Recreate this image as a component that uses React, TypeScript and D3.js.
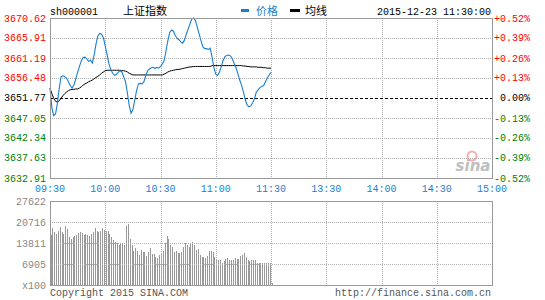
import React from "react";
import * as d3 from "d3";

const prevClose = 3651.77;
const priceTicks = [3670.62, 3665.91, 3661.19, 3656.48, 3651.77, 3647.05, 3642.34, 3637.63, 3632.91];
const pctLabels = ["+0.52%", "+0.39%", "+0.26%", "+0.13%", "0.00%", "-0.13%", "-0.26%", "-0.39%", "-0.52%"];
const timeLabels = ["09:30", "10:00", "10:30", "11:00", "11:30", "13:30", "14:00", "14:30", "15:00"];
const volTicks = [27622, 20716, 13811, 6905];

const price = [
  3654.1, 3649.5, 3647.6, 3648.0, 3650.5, 3654.0, 3656.8, 3657.0, 3656.8, 3656.4,
  3655.6, 3654.7, 3654.1, 3654.8, 3656.3, 3657.8, 3659.2, 3660.5, 3661.3, 3661.4,
  3661.0, 3660.4, 3660.7, 3660.0, 3662.0, 3664.5, 3666.4, 3667.0, 3666.8, 3666.0,
  3664.0, 3662.0, 3659.8, 3658.5, 3657.6, 3657.1, 3657.3, 3657.8, 3658.2, 3657.9,
  3656.8, 3655.6, 3653.0, 3650.0, 3648.2, 3649.0, 3651.2, 3653.5, 3655.1, 3655.2,
  3655.1, 3655.6, 3657.0, 3658.2, 3658.6, 3658.9, 3659.0, 3658.7, 3659.0, 3658.8,
  3659.2, 3659.8, 3660.6, 3662.9, 3665.3, 3667.2, 3667.8, 3667.5, 3666.5, 3665.8,
  3665.5, 3665.0, 3664.7, 3665.4, 3666.8, 3668.0, 3669.2, 3670.4, 3670.62, 3670.0,
  3668.4, 3666.8, 3665.3, 3663.8, 3663.4, 3663.4, 3663.2, 3663.5, 3661.4, 3659.0,
  3657.4, 3657.1, 3657.8, 3659.2, 3660.6, 3661.5, 3661.8, 3661.9, 3661.7, 3661.0,
  3659.9, 3658.9, 3657.5, 3656.0, 3654.8, 3653.2, 3651.4, 3650.2, 3649.7, 3649.9,
  3650.6, 3651.6, 3653.1, 3653.7, 3654.2, 3654.5, 3654.7, 3655.6, 3656.5, 3657.2,
  3657.8,
];

const avgPrice = [
  3654.1, 3652.8, 3651.7, 3651.0, 3650.8, 3651.1, 3651.7, 3652.3, 3652.8, 3653.2,
  3653.5, 3653.7, 3653.8, 3653.8, 3653.9, 3653.9, 3654.1, 3654.4, 3654.8, 3655.1,
  3655.3, 3655.6, 3655.8, 3656.0, 3656.3, 3656.6, 3656.9, 3657.2, 3657.6, 3657.9,
  3658.2, 3658.3, 3658.3, 3658.3, 3658.3, 3658.3, 3658.3, 3658.3, 3658.3, 3658.2,
  3658.2, 3658.1, 3657.9, 3657.6, 3657.4, 3657.2, 3657.2, 3657.2, 3657.2, 3657.2,
  3657.2, 3657.2, 3657.2, 3657.2, 3657.2, 3657.2, 3657.2, 3657.2, 3657.2, 3657.2,
  3657.2, 3657.2, 3657.4, 3657.6, 3657.9, 3658.1, 3658.2, 3658.3, 3658.4, 3658.5,
  3658.5, 3658.6, 3658.7, 3658.8, 3658.9, 3659.0, 3659.1, 3659.1, 3659.2, 3659.2,
  3659.2, 3659.2, 3659.2, 3659.2, 3659.2, 3659.2, 3659.2, 3659.2, 3659.4, 3659.4,
  3659.4, 3659.4, 3659.4, 3659.4, 3659.4, 3659.4, 3659.4, 3659.4, 3659.4, 3659.4,
  3659.4, 3659.4, 3659.4, 3659.4, 3659.4, 3659.3, 3659.3, 3659.2, 3659.2, 3659.1,
  3659.1, 3659.1, 3659.1, 3659.0, 3659.0, 3659.0, 3658.9, 3658.9, 3658.8, 3658.8,
  3658.8,
];

const volume = [
  16550, 18740, 17430, 16770, 17650, 18960, 17430, 16770, 19290, 18520,
  15670, 15230, 15670, 16000, 16330, 17100, 17430, 17100, 16330, 16770,
  16550, 16000, 16770, 17430, 18740, 17650, 17430, 17860, 18740, 18190,
  17650, 17860, 16770, 15670, 14900, 14140, 13810, 13040, 13480, 13810,
  13150, 19290, 19950, 15230, 13150, 11180, 12060, 11180, 9970, 11510,
  10850, 10850, 9430, 10850, 12060, 10190, 10190, 9100, 8880, 9760,
  10520, 11070, 13810, 16000, 15230, 13040, 12390, 10850, 11180, 10520,
  10520, 10850, 12390, 13810, 13150, 12390, 13810, 14140, 13150, 11400,
  11840, 9970, 9100, 9100, 8880, 9430, 11180, 11070, 10740, 9100,
  8330, 8330, 8330, 7230, 7780, 8550, 8880, 8330, 8330, 8330,
  8880, 8660, 8660, 9650, 9760, 10520, 9320, 8330, 7780, 8330,
  8330, 8330, 7230, 7230, 7230, 7230, 7230, 7230, 7230, 7230,
  660,
];

const MONO = "'Liberation Mono', 'DejaVu Sans Mono', monospace";
const CJK = "'Noto Sans CJK SC', sans-serif";
const BLUE = "#1a7fd0";
const RED = "#ff0000";
const GREEN = "#008000";
const GRID = "#b0b0b0";
const BORDER = "#999999";

export default function App() {
  const W = 545, H = 300;
  const left = 50, right = 492;
  const top = 18, bottom = 178;
  const vTop = 201, vBottom = 285;

  const x = d3.scaleLinear().domain([0, 240]).range([left, right]);
  const y = d3.scaleLinear().domain([priceTicks[priceTicks.length - 1], priceTicks[0]]).range([bottom, top]);
  const vy = d3.scaleLinear().domain([0, volTicks[0]]).range([vBottom, vTop]);

  const line = d3.line<number>().x((_, i) => x(i)).y((d) => y(d));
  const timeIdx = timeLabels.map((_, i) => i * 30);

  const colorFor = (v: number) => (Math.abs(v - prevClose) < 0.005 ? "#000" : v > prevClose ? RED : GREEN);

  return (
    <svg width={W} height={H} style={{ position: "absolute", left: 0, top: 0, background: "#fff" }}>
      <rect x={0} y={0} width={W} height={H} fill="#fff" />
      {/* header */}
      <text x={50} y={15} fontFamily={MONO} fontSize={10} fill="#000">sh000001</text>
      <text x={123} y={15} fontFamily={CJK} fontSize={11} fill="#000">上证指数</text>
      <rect x={241} y={9} width={8} height={3} fill={BLUE} />
      <text x={256} y={15} fontFamily={CJK} fontSize={11} fill={BLUE}>价格</text>
      <rect x={290} y={9} width={10} height={3} fill="#000" />
      <text x={305} y={15} fontFamily={CJK} fontSize={11} fill="#000">均线</text>
      <text x={491} y={15} fontFamily={MONO} fontSize={10} fill="#000" textAnchor="end">2015-12-23 11:30:00</text>

      {/* main grid */}
      {priceTicks.slice(1, -1).map((p) =>
        Math.abs(p - prevClose) < 0.005 ? null : (
          <line key={"h" + p} x1={left} x2={right} y1={Math.round(y(p)) + 0.5} y2={Math.round(y(p)) + 0.5}
            stroke={GRID} strokeDasharray="1,1" shapeRendering="crispEdges" />
        )
      )}
      {timeIdx.slice(1, -1).map((t) => (
        <line key={"v" + t} x1={Math.round(x(t)) + 0.5} x2={Math.round(x(t)) + 0.5} y1={top} y2={bottom}
          stroke={GRID} strokeDasharray="1,1" shapeRendering="crispEdges" />
      ))}
      <line x1={left} x2={right} y1={Math.round(y(prevClose)) + 0.5} y2={Math.round(y(prevClose)) + 0.5}
        stroke="#000" strokeDasharray="3,2" shapeRendering="crispEdges" />

      {/* sina logo */}
      <g opacity={0.9}>
        <circle cx={472} cy={156} r={4.5} fill="none" stroke="#f5a5a5" strokeWidth={2} />
        <text x={473} y={171} fontFamily="'DejaVu Sans', sans-serif" fontStyle="italic" fontWeight="bold" fontSize={15}
          fill="#b8b8b8" textAnchor="middle">sina</text>
      </g>

      {/* lines */}
      <path d={line(avgPrice) || ""} fill="none" stroke="#000" strokeWidth={1} />
      <path d={line(price) || ""} fill="none" stroke={BLUE} strokeWidth={1.1} />

      <rect x={left + 0.5} y={top + 0.5} width={right - left} height={bottom - top} fill="none" stroke={BORDER} shapeRendering="crispEdges" />

      {/* left labels */}
      {priceTicks.map((p, i) => (
        <text key={"l" + i} x={46} y={y(p) + 3.5} fontFamily={MONO} fontSize={10} fill={colorFor(p)} textAnchor="end">
          {p.toFixed(2)}
        </text>
      ))}
      {/* right labels */}
      {pctLabels.map((s, i) => (
        <text key={"r" + i} x={530} y={y(priceTicks[i]) + 3.5} fontFamily={MONO} fontSize={10}
          fill={colorFor(priceTicks[i])} textAnchor="end">{s}</text>
      ))}
      {/* time labels */}
      {timeLabels.map((s, i) => (
        <text key={"t" + i} x={x(timeIdx[i])} y={192} fontFamily={MONO} fontSize={10} fill={BLUE} textAnchor="middle">{s}</text>
      ))}

      {/* volume */}
      {volume.map((v, i) => (
        <rect key={"b" + i} x={Math.floor(x(i)) + 1} y={vy(v)} width={1} height={vBottom - vy(v)} fill="#999" shapeRendering="crispEdges" />
      ))}
      {volTicks.slice(1).map((v) => (
        <line key={"vh" + v} x1={left} x2={right} y1={Math.round(vy(v)) + 0.5} y2={Math.round(vy(v)) + 0.5}
          stroke={GRID} strokeDasharray="1,1" shapeRendering="crispEdges" />
      ))}
      {timeIdx.slice(1, -1).map((t) => (
        <line key={"vv" + t} x1={Math.round(x(t)) + 0.5} x2={Math.round(x(t)) + 0.5} y1={vTop} y2={vBottom}
          stroke={GRID} strokeDasharray="1,1" shapeRendering="crispEdges" />
      ))}
      <rect x={left + 0.5} y={vTop + 0.5} width={right - left} height={vBottom - vTop} fill="none" stroke={BORDER} shapeRendering="crispEdges" />
      {volTicks.map((v) => (
        <text key={"vl" + v} x={46} y={vy(v) + 3.5} fontFamily={MONO} fontSize={10} fill="#888" textAnchor="end">{v}</text>
      ))}
      <text x={46} y={vBottom + 3.5} fontFamily={MONO} fontSize={10} fill="#888" textAnchor="end">x100</text>

      {/* footer */}
      <text x={50} y={296} fontFamily={MONO} fontSize={10} fill="#555">Copyright 2015 SINA.COM</text>
      <text x={491} y={296} fontFamily={MONO} fontSize={10} fill="#555" textAnchor="end">http://finance.sina.com.cn</text>
    </svg>
  );
}
